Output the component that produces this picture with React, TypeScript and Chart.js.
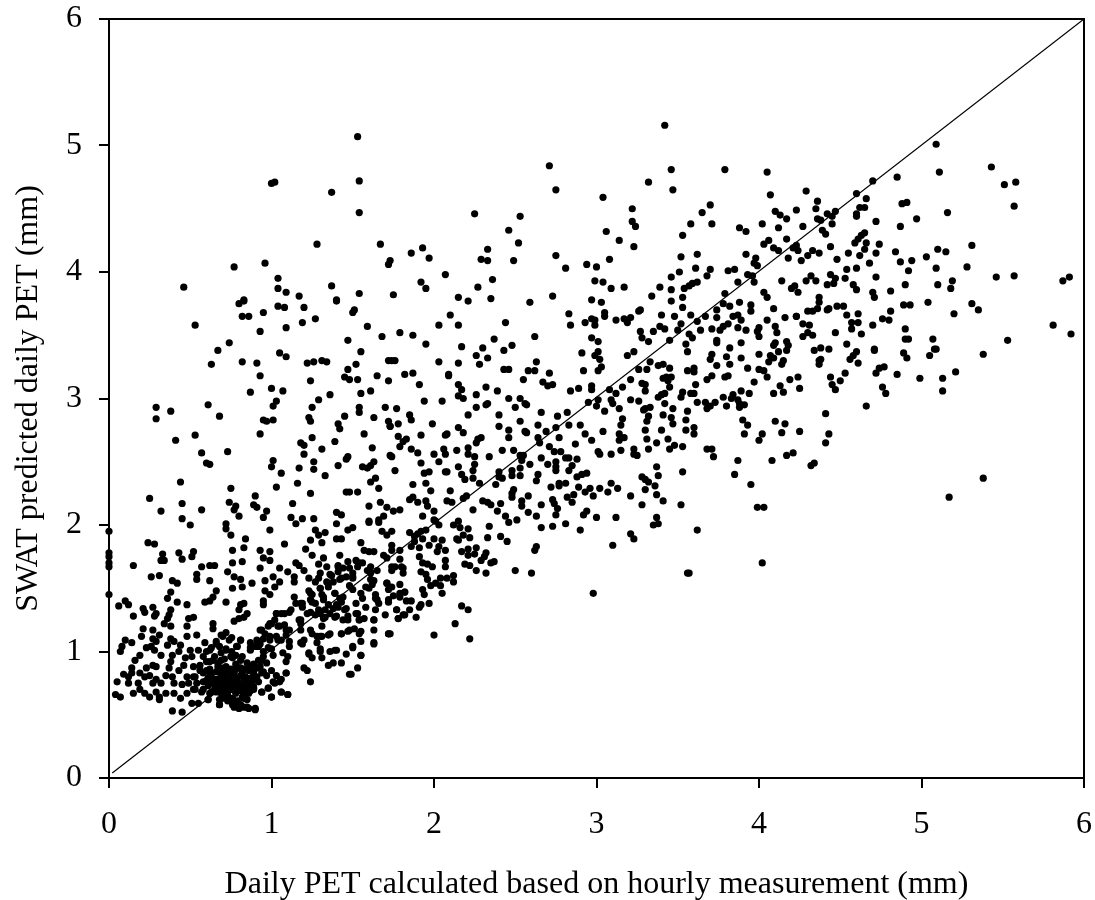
import React, { useEffect, useRef } from "react";
import { Chart, registerables } from "chart.js";

Chart.register(...registerables);

const xTitle = "Daily PET calculated based on hourly measurement (mm)";
const yTitle = "SWAT predicted daily PET (mm)";
const axisMin = 0;
const axisMax = 6;
const onetoone = [{ x: 0.02, y: 0.04 }, { x: 6, y: 6 }];

const upperLeft = [[1.53,5.07],[1.54,4.72],[1.02,4.71],[1,4.7],[1.37,4.63],[1.54,4.47],[1.28,4.22],[1.67,4.22],[1.73,4.09],[1.72,4.06],[0.77,4.04],[0.96,4.07],[1.04,3.95],[0.46,3.88],[1.37,3.89],[1.04,3.87],[1.09,3.84],[1.54,3.83],[1.75,3.82],[1.17,3.81],[0.83,3.78],[1.4,3.78]];

const upperMiddle = [[3.42,5.16],[2.71,4.84],[2.75,4.65],[3.46,4.81],[3.47,4.65],[3.32,4.71],[3.79,4.81],[3.04,4.59],[3.22,4.5],[3.22,4.4],[3.24,4.36],[3.06,4.32],[3.14,4.25],[3.23,4.2],[2.25,4.46],[2.53,4.44],[2.46,4.33],[2.52,4.23],[1.93,4.19],[1.86,4.15],[1.97,4.11],[2.33,4.18],[2.29,4.1],[2.33,4.09],[2.49,4.09],[2.75,4.13],[2.81,4.03],[2.94,4.06],[3,4.04],[3.08,4.1],[3.7,4.53],[3.65,4.47],[3.58,4.38],[3.71,4.38],[3.53,4.29],[3.52,4.12],[3.62,4.14],[3.88,4.35],[3.92,4.32],[3.92,4.14],[3.61,4.03],[3.7,4.02],[3.81,4.01],[3.85,4.02],[3.93,3.98],[3.51,4],[3.46,3.96],[3.68,3.97],[3.62,3.92],[3.59,3.91],[3.57,3.89],[3.54,3.87],[3.39,3.88],[3.46,3.86],[3.34,3.81],[3.53,3.8],[3.46,3.77],[3.53,3.72],[3.79,3.83],[3.87,3.92],[3.78,3.75],[3.82,3.73],[3.88,3.76],[3.74,3.7],[3.74,3.64],[3.67,3.65],[3.58,3.66],[3.4,3.66],[3.48,3.65],[3.62,3.61],[3.84,3.65],[3.87,3.66],[3.89,3.62],[3.81,3.59],[3.78,3.57],[3.76,3.54],[3.87,3.56],[3.71,3.55],[3.92,3.54],[3.64,3.54],[3.52,3.59],[3.5,3.54],[3.39,3.57],[3.42,3.55],[3.35,3.53],[3.27,3.53],[3.28,3.48],[3.32,3.45],[3.45,3.46],[3.57,3.51],[3.59,3.48],[3.55,3.43],[3.74,3.46],[3.74,3.44],[3.89,3.44],[3.82,3.4],[3.27,3.7],[3.26,3.69],[3.21,3.64],[3.17,3.63],[3.19,3.6],[3.12,3.62],[3.05,3.68],[3.05,3.65],[2.99,3.93],[3.04,3.92],[3.09,3.87],[3.17,3.88],[2.97,3.78],[3.03,3.76],[2.97,3.63],[2.99,3.62],[2.99,3.58],[2.93,3.6],[2.83,3.67],[2.84,3.58],[2.97,3.48],[3.01,3.45],[2.73,3.81],[2.59,3.76],[2.44,3.6],[2.62,3.49],[2.37,3.47],[2.48,3.42],[2.43,3.38],[2.3,3.4],[2.17,3.41],[1.95,3.43],[1.87,3.5],[1.79,3.52],[2.03,3.58],[2.1,3.66],[2.15,3.58],[2.15,3.8],[2.21,3.77],[2.27,3.88],[2.35,3.79],[2.36,3.94],[2.07,3.98],[1.92,3.92],[1.95,3.87]];

const upperRight = [[5.09,5.01],[5.11,4.79],[5.43,4.83],[5.51,4.69],[5.58,4.71],[5.57,4.52],[4.85,4.75],[4.7,4.72],[4.6,4.62],[4.66,4.58],[4.05,4.79],[4.07,4.61],[4.29,4.64],[4.36,4.56],[4.35,4.5],[4.47,4.48],[4.42,4.46],[4.45,4.44],[4.62,4.51],[4.65,4.51],[4.6,4.46],[4.6,4.44],[4.88,4.54],[4.91,4.55],[5.16,4.47],[4.97,4.42],[4.72,4.4],[4.87,4.36],[4.23,4.49],[4.1,4.48],[4.13,4.45],[4.17,4.42],[4.02,4.38],[4.12,4.35],[4.27,4.36],[4.36,4.42],[4.38,4.41],[4.45,4.38],[4.39,4.33],[4.41,4.3],[4.65,4.31],[4.63,4.29],[4.61,4.26],[4.59,4.23],[4.66,4.23],[4.65,4.18],[4.74,4.22],[4.72,4.15],[4.84,4.16],[4.87,4.08],[4.94,4.09],[5.03,4.12],[5.1,4.18],[5.15,4.16],[5.31,4.21],[5.28,4.04],[5.09,4.03],[4.92,4.01],[4.72,3.96],[5.46,3.96],[5.57,3.97],[5.91,3.96],[5.87,3.93],[4.9,3.9],[5.1,3.9],[5.19,3.93],[5.18,3.87],[4.81,3.85],[4.7,3.84],[4.71,3.8],[4.06,4.25],[4.03,4.22],[4.09,4.19],[4.12,4.17],[4.23,4.21],[4.21,4.19],[4.24,4.17],[4.17,4.26],[4.18,4.11],[4.26,4.09],[4.3,4.13],[4.33,4.17],[4.37,4.15],[4.44,4.2],[4.48,4.1],[4.55,4.15],[4.62,4.13],[4.68,4.07],[4.54,4.02],[4.6,4.03],[4.44,3.98],[4.32,3.97],[4.29,3.93],[4.35,3.93],[4.47,3.95],[4.53,3.95],[4.42,3.9],[4.46,3.91],[4.58,3.9],[4.6,3.86],[4.14,3.93],[4.22,3.89],[4.2,3.87],[4.24,3.84],[4.03,3.84],[4.05,3.8],[4.37,3.8],[3.98,4.11],[3.97,4.07],[3.99,4.05],[3.96,3.97],[3.97,3.92]];

const rightBandTop = [[5.81,3.58],[5.92,3.51],[5.53,3.46],[5.07,3.47],[4.9,3.55],[4.92,3.47],[4.63,3.51],[4.7,3.58],[4.47,3.52],[4.54,3.43],[5.08,3.39],[4.34,3.38],[4.38,3.4],[4.43,3.39],[4,3.56],[3.99,3.53],[4,3.49],[4.1,3.57],[4.11,3.52],[4.05,3.62],[4.16,3.64],[4.23,3.65],[4.27,3.59],[4.31,3.58],[4.27,3.49],[4.3,3.52],[4.33,3.5],[4.57,3.55],[4.57,3.6],[4.61,3.6],[4.3,3.69],[4.33,3.69],[4.36,3.71],[4.42,3.7],[4.43,3.71],[4.37,3.76],[4.48,3.73],[4.52,3.73],[4.54,3.66],[4.61,3.67],[4.81,3.69],[4.76,3.63],[4.8,3.62],[4.89,3.74],[4.93,3.74],[5.04,3.76],[5.2,3.67],[5.31,3.75],[5.35,3.7],[4.09,3.71],[3.95,3.69],[3.95,3.74],[4.12,3.37],[4.17,3.38],[4.18,3.42],[4.17,3.45],[4.09,3.42],[4.1,3.44],[4.71,3.39],[5.09,3.39],[4.9,3.47],[4.23,3.65]];

const rightBandLow = [[5.38,3.35],[5.21,3.21],[5.13,3.16],[5.13,3.06],[4.99,3.16],[4.85,3.19],[4.77,3.25],[4.74,3.24],[4.72,3.2],[5.05,3.34],[4.89,3.36],[4.91,3.32],[4.71,3.38],[4.6,3.37],[4.58,3.34],[4.56,3.31],[4.61,3.28],[4.53,3.2],[4.5,3.14],[4.44,3.17],[4.45,3.11],[4.47,3.07],[4.76,3.09],[4.78,3.04],[4.66,2.94],[4.41,2.88],[4.43,2.72],[4.41,2.65],[4.34,2.49],[4.32,2.47],[4.21,2.57],[4.17,2.55],[4.08,2.51],[4.25,2.74],[4.14,2.73],[4.16,2.8],[4.1,2.82],[4.02,2.72],[4,2.67],[3.91,2.72],[3.93,2.79],[3.9,2.83],[3.87,2.51],[3.85,2.4],[3.95,2.32],[3.99,2.14],[4.03,2.14],[3.62,1.96],[4.02,1.7],[3.57,1.62],[5.17,2.22],[5.38,2.37],[3.72,2.54],[3.68,2.6],[3.71,2.6],[3.6,2.77],[3.6,2.72],[4.24,3.17],[4.19,3.15],[4.25,3.08],[4.13,3.1],[4.15,3.05],[4.09,3.04],[3.97,3.13],[3.94,3.04],[3.89,3.06],[3.84,3.03],[3.83,3],[3.87,2.99],[3.91,2.95],[3.88,2.93],[3.88,2.96],[3.8,2.94],[3.78,3.01],[3.73,2.97],[3.67,2.97],[3.62,2.97],[3.68,2.92],[3.7,2.94],[3.61,3.11],[3.6,3.04],[3.58,3.04],[3.68,3.15],[3.71,3.18],[3.79,3.17],[3.81,3.18],[3.93,3.24],[4,3.23],[4.03,3.22],[4.05,3.17],[3.89,3.32],[3.74,3.26],[3.82,3.27],[3.8,3.33],[3.7,3.31],[3.71,3.35],[3.6,3.24],[3.6,3.21],[4,3.35],[4.07,3.34],[4.06,3.29],[4.09,3.32],[4.15,3.3],[4.14,3.27],[4.38,3.31],[4.37,3.27],[4.37,3.3]];

const centreUpper = [[2.03,3.29],[2.15,3.28],[2.28,3.27],[2.33,3.32],[2.26,3.34],[2.43,3.23],[2.46,3.23],[2.58,3.22],[2.62,3.22],[2.63,3.29],[2.71,3.2],[2.55,3.15],[2.67,3.13],[2.7,3.1],[2.73,3.11],[2.84,3.06],[2.89,3.08],[2.97,3.1],[2.97,3.07],[2.92,3.22],[3.01,3.22],[3.03,3.25],[2.91,3.36],[2.99,3.34],[3.02,3.31],[3.01,3.37],[3.19,3.34],[3.23,3.37],[3.56,3.37],[3.33,3.29],[3.26,3.23],[3.31,3.23],[3.38,3.26],[3.41,3.27],[3.45,3.24],[3.56,3.22],[3.41,3.16],[3.43,3.17],[3.46,3.17],[3.44,3.14],[3.21,3.15],[3.28,3.12],[3.3,3.11],[3.3,3.06],[3.45,3.09],[3.16,3.09],[3.08,3.07],[3.12,3.04],[3.42,3.04],[3.4,3.03],[3.38,3.01],[3.53,3.05],[3.52,3.01],[3.01,2.99],[2.95,2.97],[3.09,2.99],[3.1,2.96],[3.21,2.99],[3.26,2.98],[3.42,2.96],[3,2.94],[3.05,2.9],[3.14,2.92],[3.3,2.92],[3.29,2.91],[3.33,2.93],[3.47,2.92],[3.56,2.9],[3.41,2.87],[3.46,2.85],[3.47,2.8],[3.55,2.83],[3.32,2.86],[3.31,2.82],[3.16,2.84],[3.15,2.79],[3.3,2.75],[3.4,2.75],[3.55,2.75],[3.04,2.74],[2.93,2.72],[2.97,2.67],[3.14,2.72],[3.17,2.69],[3.14,2.67],[3.31,2.68],[3.37,2.65],[3.44,2.68],[3.48,2.63],[3.45,2.6],[3.32,2.6],[3.53,2.62],[3.23,2.6],[3.25,2.55],[3.23,2.56],[3.15,2.59],[3.09,2.56],[3.01,2.58],[3.02,2.56],[2.26,3.03],[2.32,3.09],[2.39,3.06],[2.15,3.11],[2.17,3.07],[2.15,3.02],[2.18,3],[2.09,3.19],[2.09,3.18],[1.91,3.11],[1.82,3.19],[1.87,3.2],[1.76,3.3],[1.74,3.3],[2.05,2.98],[1.94,2.98],[2.21,2.87],[2.26,2.93],[2.32,2.95],[2.33,2.96],[2.4,2.87],[2.4,2.78],[2.46,3],[2.5,2.93],[2.53,3],[2.56,2.96],[2.57,2.95],[2.53,2.82],[2.64,2.79],[2.46,2.75],[2.46,2.69],[2.56,2.74],[2.57,2.73],[2.69,2.74],[2.75,2.77],[2.64,2.69],[2.65,2.65],[2.77,2.69],[2.83,2.79],[2.9,2.79],[2.76,2.86],[2.82,2.89],[2.66,2.89],[2.87,2.64],[2.71,2.62],[2.74,2.58],[2.78,2.58]];

const centreMiddle = [[3.37,2.46],[3.38,2.39],[3.53,2.42],[3.28,2.38],[3.3,2.36],[3.32,2.34],[3.36,2.31],[3.3,2.28],[3.37,2.24],[3.41,2.19],[3.21,2.23],[3.28,2.16],[3.52,2.16],[3.12,2.06],[3.37,2.06],[3.38,2.01],[3.35,2],[3.21,1.93],[3.23,1.89],[3.1,1.84],[3.56,1.62],[2.98,1.46],[2.6,1.62],[2.5,1.64],[2.63,1.83],[2.62,1.8],[2.9,1.96],[3,2.06],[2.81,2.01],[2.73,1.99],[2.66,1.98],[2.63,2.07],[2.58,2.1],[2.51,2.04],[2.46,2.02],[2.44,2.07],[2.75,2.08],[2.94,2.11],[2.92,2.08],[2.66,2.16],[2.76,2.13],[2.74,2.17],[2.73,2.2],[2.85,2.18],[2.82,2.22],[2.86,2.24],[2.93,2.26],[2.96,2.29],[2.98,2.23],[3.02,2.29],[3.07,2.26],[3.09,2.33],[3.13,2.29],[2.89,2.3],[2.81,2.33],[2.77,2.33],[2.77,2.31],[2.72,2.3],[2.88,2.38],[2.91,2.4],[2.94,2.41],[2.83,2.43],[2.85,2.47],[2.88,2.52],[2.83,2.53],[2.81,2.53],[2.75,2.5],[2.75,2.46],[2.75,2.43],[2.7,2.48],[2.66,2.53],[2.64,2.4],[2.63,2.35],[2.59,2.48],[2.58,2.23],[2.54,2.19],[2.54,2.15],[2.49,2.28],[2.48,2.25],[2.48,2.22],[2.53,2.45],[2.53,2.39],[2.48,2.43],[2.48,2.39],[2.55,2.55],[2.53,2.55],[2.54,2.51],[2.49,2.59],[2.42,2.59],[2.4,2.42],[2.42,2.37],[2.4,2.38],[2.38,2.32],[2.41,2.17],[2.39,2.11],[2.35,2.16],[2.33,2.18],[2.3,2.19],[2.28,2.33],[2.24,2.43],[2.25,2.48],[2.24,2.37],[2.19,2.36],[2.17,2.4],[2.15,2.46],[2.07,2.42],[2.08,2.42],[1.97,2.42],[1.94,2.41],[1.92,2.49],[1.76,2.43],[1.87,2.32],[1.95,2.33],[1.98,2.27],[2.1,2.27],[2.2,2.23],[2.18,2.21],[1.87,2.22],[1.85,2.2],[1.9,2.18],[1.95,2.19],[1.96,2.15],[2.08,2.19],[2.11,2.18],[2,2.11],[2.24,2.12],[1.79,2.12],[1.75,2.11],[1.93,2.07],[2.34,2.54],[2.25,2.54],[2.21,2.56],[2.21,2.61],[2.14,2.59],[2.07,2.56],[2.06,2.6],[2,2.56],[2.03,2.5],[1.9,2.57],[1.86,2.6],[1.83,2.68],[1.81,2.66],[1.79,2.62],[1.78,2.7],[1.92,2.71],[1.74,2.54],[2.08,2.72],[2.07,2.71],[2.15,2.77],[2.18,2.73],[2.26,2.65],[2.27,2.68],[2.29,2.69],[1.99,2.8],[1.86,2.83],[1.85,2.87],[1.78,2.8],[1.73,2.78],[1.77,2.92]];

const centreLower = [[2.01,2.03],[2.03,2],[2,2.04],[2.12,2],[2.15,2.03],[2.16,1.98],[2.21,1.97],[2.18,1.92],[2.22,1.9],[2.34,1.99],[2.33,1.9],[2.41,1.91],[2.45,1.87],[2.14,1.89],[2.15,1.88],[1.95,1.96],[1.92,1.95],[1.9,1.93],[1.85,1.94],[1.88,1.91],[1.93,1.89],[1.88,1.87],[2,1.89],[2.05,1.88],[1.97,1.84],[2.03,1.83],[2.02,1.79],[1.86,1.83],[1.91,1.82],[2.07,1.8],[2.17,1.79],[2.21,1.81],[2.21,1.76],[2.26,1.82],[2.25,1.77],[2.32,1.78],[2.31,1.75],[2.29,1.72],[2.35,1.7],[2.37,1.71],[2.19,1.69],[2.22,1.68],[2.07,1.72],[2.07,1.67],[1.91,1.75],[1.93,1.7],[1.96,1.69],[1.99,1.67],[2.26,1.64],[2.32,1.62],[1.79,1.8],[1.79,1.73],[1.74,1.8],[1.74,1.84],[1.74,1.95],[1.76,1.67],[1.8,1.67],[1.81,1.62],[1.74,1.64],[1.92,1.63],[1.95,1.61],[1.96,1.57],[2.12,1.6],[2.08,1.58],[2.04,1.58],[2.12,1.55],[2.01,1.54],[2.04,1.52],[1.98,1.52],[1.93,1.49],[1.94,1.45],[2.05,1.46],[1.79,1.53],[1.82,1.47],[1.74,1.51],[1.75,1.44],[1.79,1.43],[1.83,1.4],[1.86,1.4],[1.97,1.38],[1.92,1.37],[1.91,1.35],[1.85,1.33],[1.77,1.33],[1.82,1.29],[1.78,1.26],[1.89,1.27],[2.17,1.36],[2.21,1.33],[2.13,1.22],[2,1.13],[2.22,1.1],[1.73,1.14]];

const leftUpper = [[0.53,3.58],[0.82,3.65],[0.86,3.65],[0.8,3.75],[0.83,3.77],[0.95,3.68],[1.04,3.73],[1.08,3.72],[1.2,3.72],[1.4,3.77],[1.5,3.68],[1.51,3.7],[1.27,3.63],[1.19,3.6],[1.09,3.56],[0.93,3.53],[1.59,3.57],[1.68,3.49],[1.47,3.46],[0.74,3.44],[0.67,3.38],[1.05,3.36],[1.09,3.33],[1.55,3.37],[0.82,3.29],[0.91,3.28],[0.63,3.27],[1.22,3.28],[1.26,3.29],[1.31,3.3],[1.34,3.29],[1.52,3.27],[1.47,3.23],[1.72,3.3],[0.93,3.18],[1.45,3.17],[1.48,3.15],[1.53,3.15],[1.65,3.18],[1.72,3.14],[1.24,3.14],[0.87,3.05],[1,3.08],[1.07,3.06],[1.55,3.04],[1.61,3.06],[1.36,3.03],[1.29,2.99],[1.03,2.98],[1.01,2.94],[1.25,2.93],[0.61,2.95],[0.29,2.93],[0.29,2.84],[0.38,2.9],[0.68,2.86],[1.54,2.93],[1.54,2.89],[1.7,2.93],[1.45,2.86],[1.63,2.85],[1.23,2.85],[1.24,2.82],[0.95,2.83],[0.97,2.82],[1.01,2.83],[1.41,2.8],[1.42,2.76],[1.72,2.82],[1.73,2.78],[0.93,2.72],[0.53,2.71],[0.41,2.67],[1.25,2.69],[1.18,2.65],[1.2,2.63],[1.39,2.66],[1.57,2.72],[1.62,2.61],[1.31,2.6],[0.57,2.57],[0.73,2.58],[1.2,2.56],[0.6,2.49],[0.62,2.48],[1.01,2.51],[1,2.46],[1.26,2.5],[1.26,2.44],[1.41,2.47],[1.46,2.52],[1.47,2.54],[1.17,2.45],[1.06,2.41],[1.33,2.39],[1.56,2.46],[1.59,2.45],[1.61,2.47],[1.63,2.5],[1.73,2.55],[0.44,2.34],[1.64,2.37],[1.61,2.34],[1.16,2.33],[1.03,2.3],[0.75,2.29],[1.66,2.29],[1.24,2.25],[1.46,2.26],[1.48,2.26],[1.53,2.26],[0.9,2.23],[0.25,2.21],[0.45,2.17],[0.74,2.18],[0.89,2.16],[0.91,2.14],[1.13,2.17],[1.67,2.18],[1.6,2.15],[1.71,2.14],[0.32,2.11],[0.57,2.12],[0.78,2.15],[0.77,2.12],[0.97,2.11],[1.4,2.1],[1.43,2.08],[0.8,2.07],[0.95,2.06],[1.12,2.06],[1.19,2.05],[1.26,2.05],[0.45,2.05],[1.69,2.07],[1.6,2.03],[1.66,2.04]];

const leftEdge = [[0,1.95],[0,1.78],[0,1.75],[0,1.7],[0,1.67],[0,1.45]];

const leftMiddle = [[0.24,1.86],[0.28,1.85],[0.15,1.68],[0.33,1.77],[0.32,1.72],[0.34,1.72],[0.43,1.78],[0.45,1.73],[0.51,1.75],[0.52,1.79],[0.72,2.01],[0.72,1.97],[0.75,1.92],[0.5,2],[0.99,1.96],[0.84,1.89],[0.83,1.82],[1.08,1.85],[1.15,2.01],[1.27,1.96],[1.29,1.92],[1.33,1.94],[1.31,1.86],[1.4,1.89],[1.43,1.89],[1.4,2.01],[1.24,1.88],[1.21,1.81],[1.47,1.96],[1.5,1.98],[1.55,1.86],[1.6,2.02],[1.66,2.02],[1.68,1.95],[1.71,1.92],[1.57,1.8],[1.63,1.79],[1.6,1.79],[1.69,1.76],[0.76,1.8],[0.76,1.7],[0.82,1.71],[0.93,1.8],[0.99,1.79],[0.95,1.74],[0.99,1.72],[0.93,1.66],[1.05,1.66],[1.1,1.63],[1.15,1.7],[1.17,1.68],[1.2,1.64],[1.25,1.76],[1.32,1.74],[1.29,1.69],[1.34,1.67],[1.42,1.76],[1.41,1.68],[1.41,1.63],[1.47,1.71],[1.52,1.72],[1.56,1.7],[1.53,1.67],[1.59,1.64],[1.65,1.64],[1.71,1.74],[0.57,1.67],[0.62,1.68],[0.65,1.68],[0.54,1.61],[0.54,1.57],[0.26,1.59],[0.31,1.6],[0.62,1.56],[0.39,1.56],[0.42,1.54],[0.73,1.63],[0.77,1.59],[0.81,1.57],[0.76,1.5],[0.82,1.51],[0.88,1.54],[0.96,1.56],[1.01,1.59],[1.05,1.55],[1.02,1.51],[0.96,1.48],[0.99,1.45],[0.95,1.4],[0.95,1.37],[1.14,1.59],[1.14,1.55],[1.23,1.58],[1.29,1.58],[1.27,1.55],[1.36,1.61],[1.34,1.55],[1.35,1.51],[1.42,1.57],[1.46,1.59],[1.5,1.59],[1.23,1.48],[1.25,1.45],[1.3,1.5],[1.31,1.45],[1.39,1.46],[1.44,1.43],[1.5,1.49],[1.55,1.46],[1.56,1.42],[1.64,1.42],[1.66,1.38],[1.61,1.57],[1.62,1.53],[1.71,1.54],[1.72,1.49],[1.72,1.41],[1.14,1.43],[1.18,1.38],[1.24,1.41],[1.32,1.41],[1.35,1.37],[1.4,1.37],[1.43,1.39],[0.38,1.47],[0.36,1.42],[0.42,1.39],[0.48,1.37],[0.59,1.39],[0.62,1.4],[0.64,1.43],[0.66,1.48],[0.72,1.39],[0.81,1.37],[0.83,1.38],[0.8,1.33],[0.85,1.3],[0.83,1.27],[0.1,1.4],[0.12,1.37],[0.06,1.36],[0.21,1.34],[0.27,1.35],[0.22,1.31],[0.29,1.3],[0.28,1.28],[0.15,1.28],[0.38,1.33],[0.37,1.29],[0.36,1.26],[0.49,1.26],[0.52,1.27],[0.77,1.24],[0.8,1.26],[0.34,1.22],[0.38,1.2],[0.48,1.2],[0.21,1.18],[0.27,1.17],[0.64,1.22],[0.64,1.18],[0.48,1.12],[0.54,1.13],[0.2,1.12],[0.31,1.13],[0.27,1.1],[0.29,1.08],[0.1,1.09],[0.14,1.07],[0.08,1.04],[0.07,1]];

const leftDense = [[0.23,1.03],[0.26,1.04],[0.28,1.01],[0.32,0.97],[0.38,1.1],[0.36,1.05],[0.4,1.08],[0.44,1.05],[0.43,1],[0.39,0.97],[0.59,1.07],[0.55,1.01],[0.5,1.01],[0.51,0.96],[0.47,0.95],[0.19,0.97],[0.16,0.93],[0.14,0.87],[0.09,0.82],[0.12,0.8],[0.05,0.76],[0.04,0.66],[0.07,0.64],[0.12,0.75],[0.15,0.67],[0.14,0.83],[0.19,0.83],[0.18,0.75],[0.19,0.7],[0.22,0.67],[0.25,0.64],[0.29,0.68],[0.31,0.64],[0.31,0.62],[0.35,0.67],[0.4,0.67],[0.44,0.63],[0.39,0.53],[0.45,0.52],[0.51,0.59],[0.55,0.59],[0.61,0.62],[0.68,0.58],[0.77,0.56],[0.8,0.55],[0.83,0.56],[0.86,0.55],[0.9,0.54],[0.27,0.89],[0.29,0.88],[0.23,0.87],[0.25,0.81],[0.29,0.78],[0.32,0.75],[0.27,0.75],[0.22,0.8],[0.38,0.92],[0.37,0.87],[0.35,0.81],[0.39,0.8],[0.4,0.75],[0.43,0.85],[0.46,0.89],[0.48,0.8],[0.45,0.74],[0.49,0.75],[0.48,0.67],[0.52,0.88],[0.56,0.89],[0.53,0.8],[0.54,0.75],[0.53,0.7],[0.58,0.83],[0.6,0.77],[0.58,0.7],[0.62,0.67],[0.65,0.7]];

const denseCore = [[0.6,1],[0.63,1.03],[0.66,1.08],[0.69,1.13],[0.72,1.15],[0.755,1.11],[0.81,1.09],[0.785,1.04],[0.755,1],[0.72,1.02],[0.69,0.99],[0.65,0.96],[0.62,0.92],[0.67,0.91],[0.71,0.94],[0.76,0.95],[0.81,0.93],[0.85,0.91],[0.89,0.9],[0.87,1.03],[0.9,1.04],[0.93,1.06],[0.6,0.92],[0.62,0.86],[0.66,0.84],[0.69,0.87],[0.72,0.88],[0.75,0.86],[0.78,0.9],[0.8,0.87],[0.83,0.86],[0.86,0.85],[0.89,0.84],[0.92,0.87],[0.94,0.83],[0.63,0.8],[0.66,0.78],[0.69,0.81],[0.71,0.79],[0.73,0.82],[0.75,0.8],[0.77,0.83],[0.79,0.79],[0.81,0.81],[0.84,0.8],[0.87,0.79],[0.9,0.8],[0.65,0.74],[0.68,0.72],[0.7,0.75],[0.72,0.73],[0.74,0.76],[0.76,0.74],[0.78,0.72],[0.8,0.75],[0.83,0.74],[0.86,0.73],[0.88,0.76],[0.66,0.68],[0.69,0.67],[0.71,0.69],[0.73,0.66],[0.75,0.7],[0.78,0.67],[0.81,0.69],[0.84,0.67],[0.87,0.69],[0.7,0.63],[0.73,0.61],[0.76,0.63],[0.79,0.61],[0.82,0.64],[0.85,0.62],[0.77,0.59],[0.68,0.62]];

const lowerBand = [[0.93,1.17],[0.96,1.14],[1,1.22],[1.03,1.3],[1.02,1.25],[0.98,1.2],[0.95,1.1],[0.91,1.09],[0.87,1.07],[1.05,1.2],[1.08,1.21],[1.09,1.13],[1.03,1.12],[1.06,1.09],[0.99,1.12],[1.11,1.17],[1.18,1.22],[1.17,1.25],[1.12,1.33],[1.15,1.38],[1.19,1.35],[1.08,1.3],[1.22,1.3],[1.27,1.29],[1.3,1.3],[1.32,1.26],[1.36,1.3],[1.4,1.28],[1.44,1.25],[1.47,1.28],[1.52,1.3],[1.57,1.26],[1.54,1.25],[1.63,1.25],[1.7,1.29],[1.63,1.17],[1.72,1.14],[1.63,1.07],[1.55,0.97],[1.5,1.03],[1.46,0.98],[1.53,0.87],[1.43,0.91],[1.38,0.91],[1.35,0.89],[1.49,0.82],[1.48,0.82],[1.24,0.76],[1.2,0.87],[1.22,0.85],[1.31,0.95],[1.3,1],[1.23,0.99],[1.25,0.95],[1.36,1],[1.4,1.01],[1.28,1.07],[1.35,1.13],[1.31,1.12],[1.28,1.12],[1.43,1.14],[1.47,1.16],[1.51,1.18],[1.55,1.16],[1.55,1.08],[1.31,1.2],[1.25,1.14],[1.2,1.09],[1.18,1.07],[1.11,1.04],[1.1,0.96],[1.09,0.92],[1.01,0.97],[0.98,1.03],[1.09,0.83],[1.06,0.78],[1.03,0.81],[1,0.85],[0.97,0.91],[0.94,0.93],[0.95,1],[1.02,0.75],[1.06,0.68],[1.1,0.66],[1,0.64],[0.94,0.68],[0.98,0.71],[0.91,0.8],[0.89,0.85],[0.89,0.72],[0.89,0.7],[0.87,0.78],[0.83,0.64],[1.27,1.38],[1.33,1.33],[1.38,1.34],[1.45,1.33],[1.52,1.38],[1.58,1.35],[1.6,1.5],[1.48,1.52],[1.38,1.55],[1.3,1.62],[1.44,1.66],[1.5,1.62]];

const coreExtra = [[0.7,1.12],[0.74,1.09],[0.66,1.06],[0.62,1.01],[0.72,1.01],[0.79,1.04],[0.81,1.09],[0.58,0.96],[0.64,0.93],[0.69,0.93],[0.75,0.96],[0.82,0.96],[0.87,1.01],[0.92,1.04],[0.94,1.17],[0.99,1.22],[1.03,1.3],[1.04,1.2],[1.09,1.17],[0.99,1.09],[1.04,1.09],[1.11,1.08],[1.07,0.99],[1,1.02],[0.95,0.96],[0.92,0.93],[0.86,0.88],[0.81,0.87],[0.74,0.85],[0.68,0.84],[0.62,0.83],[0.56,0.85],[0.52,0.8],[0.58,0.76],[0.64,0.75],[0.7,0.76],[0.76,0.77],[0.83,0.79],[0.89,0.81],[0.93,0.88],[0.97,0.81],[1.01,0.76],[1.05,0.76],[1.09,0.83],[0.98,0.71],[1,0.64],[0.89,0.71],[0.86,0.67],[0.81,0.71],[0.75,0.7],[0.69,0.68],[0.63,0.68],[0.57,0.68],[0.52,0.7],[0.61,0.62],[0.68,0.58],[0.76,0.58],[0.81,0.58],[0.85,0.56],[0.9,0.55],[0.94,0.68],[1.06,0.68],[1.1,0.66],[0.83,0.63],[0.73,0.64],[0.6,0.85],[0.61,0.79],[0.67,0.88],[0.71,0.85],[0.78,0.86],[0.82,0.83],[0.85,0.77],[0.79,0.76],[0.74,0.72],[0.7,0.71],[0.67,0.76],[0.61,0.73],[0.72,0.67],[0.77,0.7],[0.83,0.71],[0.88,0.73],[0.92,0.76],[0.95,0.84],[0.78,0.97],[0.68,1.04]];

const bandExtra = [[1.24,1.46],[1.3,1.5],[1.32,1.43],[1.35,1.54],[1.37,1.6],[1.43,1.58],[1.39,1.46],[1.42,1.42],[1.41,1.35],[1.46,1.34],[1.25,1.39],[1.19,1.38],[1.24,1.31],[1.29,1.33],[1.33,1.27],[1.39,1.27],[1.47,1.25],[1.53,1.3],[1.54,1.25],[1.63,1.25],[1.64,1.33],[1.18,1.25],[1.11,1.31],[1.06,1.3],[1.24,1.17],[1.3,1.12],[1.36,1.14],[1.43,1.14],[1.48,1.17],[1.54,1.14],[1.5,1.04],[1.55,0.97],[1.39,1.01],[1.3,1.02],[1.23,0.98],[1.19,1.06],[1.18,1.17],[1.61,1.62],[1.54,1.7],[1.63,1.56],[1.64,1.45],[1.71,1.54],[1.74,1.67],[1.81,1.66],[1.79,1.46],[1.72,1.39],[1.77,1.33],[1.81,1.29],[1.78,1.26],[1.82,1.47],[1.72,1.14],[1.63,1.06],[1.65,1.41],[1.61,1.67],[1.58,1.51],[1.48,1.66],[1.5,1.58],[1.41,1.67]];

const scatterPoints = [
  ...upperLeft, ...upperMiddle, ...upperRight, ...rightBandTop, ...rightBandLow,
  ...centreUpper, ...centreMiddle, ...centreLower, ...leftUpper, ...leftEdge,
  ...leftMiddle, ...leftDense, ...denseCore, ...lowerBand, ...coreExtra, ...bandExtra,
].map(([x, y]) => ({ x, y }));

const FONT = '"Liberation Serif", "Times New Roman", serif';

export default function App() {
  const ref = useRef<HTMLCanvasElement | null>(null);
  useEffect(() => {
    document.body.style.margin = "0";
    const frame = {
      type: "linear" as const,
      min: axisMin,
      max: axisMax,
      ticks: { display: false },
      grid: { display: false },
      border: { display: true, color: "#000", width: 2 },
    };
    const chart = new Chart(ref.current as HTMLCanvasElement, {
      type: "scatter",
      data: {
        datasets: [
          {
            type: "line",
            data: onetoone,
            borderColor: "#000",
            borderWidth: 1.2,
            pointRadius: 0,
            xAxisID: "x",
            yAxisID: "y",
          },
          {
            type: "scatter",
            data: scatterPoints,
            backgroundColor: "#000",
            borderColor: "#000",
            borderWidth: 0,
            pointRadius: 3.6,
            clip: false,
            xAxisID: "x",
            yAxisID: "y",
          },
        ],
      } as any,
      options: {
        animation: false,
        responsive: false,
        layout: { padding: 0 },
        plugins: { legend: { display: false }, tooltip: { enabled: false } },
        scales: {
          x: {
            type: "linear",
            position: "bottom",
            min: axisMin,
            max: axisMax,
            afterFit(s: any) { s.height = 122; s.paddingLeft = 0; s.paddingRight = 0; },
            ticks: { stepSize: 1, padding: 17, color: "#000", font: { family: FONT, size: 32 }, maxRotation: 0 },
            grid: { drawOnChartArea: false, drawTicks: true, tickLength: 10, color: "#000", lineWidth: 2 },
            border: { display: true, color: "#000", width: 2 },
            title: { display: true, text: xTitle, color: "#000", font: { family: FONT, size: 32 }, padding: { top: 8, bottom: -4 } },
          },
          y: {
            type: "linear",
            position: "left",
            min: axisMin,
            max: axisMax,
            afterFit(s: any) { s.width = 109; s.paddingTop = 0; s.paddingBottom = 0; },
            ticks: { stepSize: 1, padding: 17, color: "#000", font: { family: FONT, size: 32 } },
            grid: { drawOnChartArea: false, drawTicks: true, tickLength: 10, color: "#000", lineWidth: 2 },
            border: { display: true, color: "#000", width: 2 },
            title: { display: true, text: yTitle, color: "#000", font: { family: FONT, size: 32 }, padding: { top: 9, bottom: 0 } },
          },
          xTop: { ...frame, position: "top", afterFit(s: any) { s.height = 19; } },
          yRight: { ...frame, position: "right", afterFit(s: any) { s.width = 11; } },
        },
      } as any,
    });
    return () => chart.destroy();
  }, []);
  return <canvas ref={ref} width={1095} height={900} style={{ display: "block" }} />;
}
